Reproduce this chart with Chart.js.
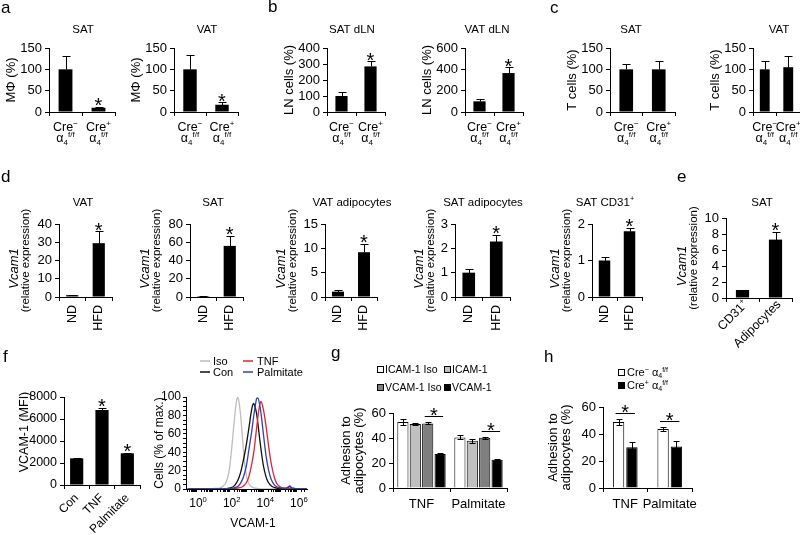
<!DOCTYPE html>
<html><head><meta charset="utf-8">
<script src="https://cdn.jsdelivr.net/npm/chart.js@4.4.0/dist/chart.umd.min.js"></script>
<style>
html,body{margin:0;padding:0;background:#fff;}
#wrap{position:relative;width:800px;height:535px;overflow:hidden;background:#fff;}
#wrap canvas{position:absolute;left:0;top:0;}
</style></head><body><div id="wrap"></div>
<script>
// ================= DATA =================
// Row 1 (panels a-c): Cre- vs Cre+ alpha4 f/f
const creGroups = ['Cre^{−}|α_{4}^{f/f}', 'Cre^{+}|α_{4}^{f/f}'];
const aSAT_values = [100, 10];   const aSAT_errors = [31, 2];
const aVAT_values = [100, 17];   const aVAT_errors = [34, 6];
const bSAT_values = [100, 285];  const bSAT_errors = [25, 33];
const bVAT_values = [100, 365];  const bVAT_errors = [18, 55];
const cSAT_values = [100, 100];  const cSAT_errors = [13, 19];
const cVAT_values = [100, 105];  const cVAT_errors = [20, 26];

// Row 2 (panels d-e): Vcam1 relative expression
const dietGroups = ['ND', 'HFD'];
const dVAT_values = [1, 29.5];     const dVAT_errors = [0.2, 6.5];
const dSAT_values = [1, 56];       const dSAT_errors = [0.3, 11];
const dVATad_values = [1.1, 9.2];  const dVATad_errors = [0.4, 1.7];
const dSATad_values = [1.0, 2.28]; const dSATad_errors = [0.17, 0.28];
const dCD31_values = [1.0, 1.8];   const dCD31_errors = [0.1, 0.1];
const eGroups = ['CD31^{+}', 'Adipocytes'];
const eSAT_values = [1.0, 7.3];    const eSAT_errors = [0.05, 0.95];

// Panel f: VCAM-1 MFI
const fGroups = ['Con', 'TNF', 'Palmitate'];
const fMFI_values = [2420, 6820, 2880];
const fMFI_errors = [30, 180, 40];

// Panel f histogram (x = log10 VCAM-1 intensity, y = % of max)
const histIso_logx = [-0.5, 0.5, 1.0, 1.4, 1.6, 1.8, 1.95, 2.05, 2.15, 2.25, 2.35, 2.42, 2.48, 2.55, 2.65, 2.75, 2.85, 2.95, 3.05, 3.2, 3.4, 3.7, 4.5, 5.5, 6.5];
const histIso_pct  = [0, 0, 0.5, 1, 3, 8, 18, 32, 50, 70, 88, 97, 100, 95, 80, 58, 36, 20, 10, 4, 1.5, 0.5, 0, 0, 0];
const histCon_logx = [-0.5, 1.0, 1.8, 2.1, 2.3, 2.5, 2.65, 2.8, 2.95, 3.05, 3.15, 3.25, 3.35, 3.42, 3.5, 3.6, 3.7, 3.8, 3.9, 4.0, 4.15, 4.3, 4.5, 4.8, 5.2, 5.45, 5.57, 5.7, 6.0, 6.6];
const histCon_pct  = [0, 0.3, 0.5, 1.5, 4, 10, 18, 30, 44, 55, 67, 80, 90, 93, 90, 82, 68, 52, 38, 26, 14, 7, 3, 1, 0.5, 1.5, 3, 1, 0.3, 0];
const histPalm_logx = [-0.5, 1.0, 2.0, 2.3, 2.5, 2.7, 2.85, 3.0, 3.12, 3.22, 3.32, 3.42, 3.52, 3.6, 3.68, 3.78, 3.88, 3.98, 4.08, 4.18, 4.32, 4.48, 4.68, 4.95, 5.3, 5.45, 5.57, 5.7, 6.0, 6.6];
const histPalm_pct  = [0, 0.3, 0.5, 1.5, 3, 8, 15, 26, 40, 52, 64, 78, 90, 98, 99, 92, 80, 64, 48, 34, 20, 10, 4, 1.5, 0.5, 1.5, 3, 1, 0.3, 0];
const histTNF_logx = [-0.5, 1.0, 2.2, 2.6, 2.8, 3.0, 3.15, 3.3, 3.45, 3.55, 3.65, 3.75, 3.82, 3.88, 3.95, 4.05, 4.15, 4.25, 4.35, 4.5, 4.65, 4.8, 5.0, 5.3, 5.6, 6.0, 6.6];
const histTNF_pct  = [0, 0.3, 0.5, 1.5, 3, 7, 14, 26, 42, 58, 74, 88, 94, 95, 91, 82, 70, 56, 42, 25, 13, 6, 2.5, 1, 0.5, 0.3, 0];
const histMajorTicks = [0, 2, 4, 6];
const histTickLabels = ['10^{0}', '10^{2}', '10^{4}', '10^{6}'];

// Panel g: adhesion to adipocytes
const gGroups = ['TNF', 'Palmitate'];
const gSeriesNames = ['ICAM-1 Iso', 'ICAM-1', 'VCAM-1 Iso', 'VCAM-1'];
const gICAMIso_values = [52.8, 40.5]; const gICAMIso_errors = [2.5, 1.6];
const gICAM_values    = [51.2, 37.8]; const gICAM_errors    = [1.0, 1.6];
const gVCAMIso_values = [51.7, 40.2]; const gVCAMIso_errors = [0.8, 1.0];
const gVCAM_values    = [27.2, 22.6]; const gVCAM_errors    = [0.5, 0.3];

// Panel h
const hGroups = ['TNF', 'Palmitate'];
const hSeriesNames = ['Cre^{−} α_{4}^{f/f}', 'Cre^{+} α_{4}^{f/f}'];
const hCreNeg_values = [48.9, 43.7]; const hCreNeg_errors = [2.5, 1.7];
const hCrePos_values = [30.2, 30.8]; const hCrePos_errors = [4.0, 3.8];

// ================= HELPERS =================
const FONT = "'Liberation Sans', Arial, Helvetica, sans-serif";
const W = 800, H = 535, YW = 40;
const BLUE = '#2f44a8', RED = '#e5232d', GRAY = '#bdbdbd';

function parse(s) {
  const parts = []; const re = /\^\{([^}]*)\}|_\{([^}]*)\}|~\{([^}]*)\}|([^^_~]+)/g; let m;
  while ((m = re.exec(s))) {
    if (m[1] !== undefined) parts.push([m[1], 1]);
    else if (m[2] !== undefined) parts.push([m[2], -1]);
    else if (m[3] !== undefined) parts.push([m[3], 0, true]);
    else parts.push([m[4], 0]);
  }
  return parts;
}
function pf(p, size) { const s = p[1] ? size * 0.64 : size; return (p[2] ? 'italic ' : '') + s + 'px ' + FONT; }
function drawRich(ctx, str, x, y, size, align) {
  const parts = parse(str);
  let w = 0;
  for (const p of parts) { ctx.font = pf(p, size); w += ctx.measureText(p[0]).width; }
  let cx = align === 'center' ? x - w / 2 : align === 'right' ? x - w : x;
  ctx.textAlign = 'left'; ctx.textBaseline = 'alphabetic';
  for (const p of parts) {
    ctx.font = pf(p, size);
    const dy = p[1] === 1 ? -size * 0.4 : p[1] === -1 ? size * 0.22 : 0;
    ctx.fillText(p[0], cx, y + dy);
    cx += ctx.measureText(p[0]).width;
  }
}
function val(v, c) { return typeof v === 'function' ? v(c) : v; }
function mkCanvas() {
  const c = document.createElement('canvas'); c.width = W; c.height = H;
  c.style.width = W + 'px'; c.style.height = H + 'px';
  document.getElementById('wrap').appendChild(c); return c;
}
function makeDeco(items) {
  return { id: 'deco', afterDraw(chart) {
    const ctx = chart.ctx;
    for (const it of items) {
      ctx.save();
      const x = val(it.x, chart), y = val(it.y, chart);
      if (it.type === 'box') {
        ctx.fillStyle = it.fill; ctx.fillRect(x, y, it.w, it.h);
        ctx.strokeStyle = '#000'; ctx.lineWidth = 1; ctx.strokeRect(x + 0.5, y + 0.5, it.w - 1, it.h - 1);
      } else if (it.type === 'hline') {
        ctx.strokeStyle = it.color; ctx.lineWidth = it.lw || 1.5;
        ctx.beginPath(); ctx.moveTo(x, y); ctx.lineTo(x + it.w, y); ctx.stroke();
      } else {
        ctx.fillStyle = it.color || '#000';
        ctx.translate(x, y);
        if (it.rot) ctx.rotate(it.rot * Math.PI / 180);
        drawRich(ctx, it.t, 0, it.mid ? it.size * 0.36 : 0, it.size, it.align || 'center');
      }
      ctx.restore();
    }
  }};
}
function makeErr(upOnly, cap) {
  return { id: 'errbars', afterDatasetsDraw(chart) {
    const ctx = chart.ctx, ys = chart.scales.y;
    ctx.save(); ctx.strokeStyle = '#000'; ctx.lineWidth = 1;
    chart.data.datasets.forEach((ds, di) => {
      if (!ds.errors) return;
      chart.getDatasetMeta(di).data.forEach((el, i) => {
        const v = ds.data[i], e = ds.errors[i];
        const x = Math.round(el.x) + 0.5;
        const yt = Math.round(ys.getPixelForValue(v + e)) + 0.5;
        const yb = Math.round(ys.getPixelForValue(upOnly ? v : v - e)) + 0.5;
        ctx.beginPath(); ctx.moveTo(x, yt); ctx.lineTo(x, yb);
        ctx.moveTo(x - cap, yt); ctx.lineTo(x + cap, yt);
        if (!upOnly) { ctx.moveTo(x - cap, yb); ctx.lineTo(x + cap, yb); }
        ctx.stroke();
      });
    });
    ctx.restore();
  }};
}
function makeStars(marks, brackets, size) {
  return { id: 'stars', afterDatasetsDraw(chart) {
    const ctx = chart.ctx, ys = chart.scales.y;
    const topOf = (di, i) => { const ds = chart.data.datasets[di]; return ys.getPixelForValue(ds.data[i] + (ds.errors ? ds.errors[i] : 0)); };
    const xOf = (di, i) => chart.getDatasetMeta(di).data[i].x;
    ctx.save(); ctx.fillStyle = '#000'; ctx.strokeStyle = '#000'; ctx.lineWidth = 1;
    ctx.font = size + 'px ' + FONT; ctx.textAlign = 'center'; ctx.textBaseline = 'alphabetic';
    for (const [di, i] of marks) {
      ctx.fillText('*', xOf(di, i), topOf(di, i) - 3 + 0.42 * size);
    }
    for (const [d1, i1, d2, i2] of brackets) {
      const yl = Math.round(Math.min(topOf(d1, i1), topOf(d2, i2)) - 6) + 0.5;
      const xa = xOf(d1, i1), xb = xOf(d2, i2);
      ctx.beginPath(); ctx.moveTo(xa - 3, yl); ctx.lineTo(xb + 3, yl); ctx.stroke();
      ctx.fillText('*', (xa + xb) / 2, yl - 3 + 0.42 * size);
    }
    ctx.restore();
  }};
}
function makeXLab(o) {
  return { id: 'xlab', afterDraw(chart) {
    if (!o) return;
    const xs = chart.scales.x, ctx = chart.ctx;
    chart.data.labels.forEach((lab, i) => {
      const x = xs.getPixelForValue(i) + (o.dx || 0);
      lab.split('|').forEach((line, k) => {
        ctx.save(); ctx.fillStyle = '#000';
        ctx.translate(x, o.y[k]); if (o.rot) ctx.rotate(o.rot * Math.PI / 180);
        drawRich(ctx, line, 0, 0, o.size, o.align || 'center');
        ctx.restore();
      });
    });
  }};
}
const L = c => c.chartArea.left;
const MIDY = c => (c.chartArea.top + c.chartArea.bottom) / 2;

function barPanel(c) {
  const canvas = mkCanvas();
  const XH = c.xh || 24;
  const datasets = c.series.map(s => ({
    data: s.values, errors: s.errors, backgroundColor: s.color || '#000',
    borderColor: '#000', borderWidth: s.border || 0,
    barPercentage: c.barPct, categoryPercentage: c.catPct
  }));
  let xTicks = { display: false };
  if (c.xRot !== undefined) xTicks = { display: true, autoSkip: false, minRotation: c.xRot, maxRotation: c.xRot, font: { family: FONT, size: c.xSize || 12 }, color: '#000', padding: c.xPad ?? 3 };
  else if (c.xPlain) xTicks = { display: true, autoSkip: false, maxRotation: 0, font: { family: FONT, size: c.xSize || 12 }, color: '#000', padding: c.xPad ?? 4 };
  return new Chart(canvas, {
    type: 'bar',
    data: { labels: c.labels, datasets },
    options: {
      responsive: false, animation: false, events: [], devicePixelRatio: 1,
      layout: { autoPadding: false, padding: { left: c.x0 - YW, right: W - c.x1, top: c.yTop, bottom: H - c.yBot - XH } },
      plugins: { legend: { display: false }, tooltip: { enabled: false }, title: { display: false } },
      scales: {
        x: { offset: true, grid: { offset: true, drawOnChartArea: false, color: '#000', tickColor: '#000', tickLength: 4, lineWidth: 1 },
             border: { display: true, color: '#000', width: 1 }, ticks: xTicks, afterFit: s => { s.height = XH; } },
        y: { min: 0, max: c.max, grid: { drawOnChartArea: false, color: '#000', tickColor: '#000', tickLength: 4 },
             border: { display: true, color: '#000', width: 1 },
             ticks: { stepSize: c.step, autoSkip: false, callback: v => String(v), font: { family: FONT, size: c.ySize || 12 }, color: '#000', padding: 3 },
             afterFit: s => { s.width = YW; } }
      }
    },
    plugins: [makeErr(c.errUp !== false, c.cap || 4), makeStars(c.stars || [], c.brackets || [], c.starSize || 20), makeXLab(c.xlab), makeDeco(c.deco || [])]
  });
}

// ================= ROW 1 =================
const row1 = { yTop: 48, yBot: 112, catPct: 1, barPct: 0.42, ySize: 13, cap: 4,
  xlab: { y: [131, 142], size: 12.5 } };
function r1(x0, x1, values, errors, max, step, extra) {
  return barPanel(Object.assign({}, row1, { labels: creGroups, x0, x1, max, step,
    series: [{ values, errors }] }, extra));
}
const T1 = 11.5;
r1(49, 115, aSAT_values, aSAT_errors, 150, 50, { stars: [[0, 1]], deco: [
  { t: 'a', x: 1, y: 13, size: 17, align: 'left' },
  { t: 'SAT', x: 83, y: 33, size: T1 },
  { t: 'MΦ (%)', x: c => L(c) - 39, y: MIDY, size: 13, rot: -90, mid: true } ] });
r1(174, 238, aVAT_values, aVAT_errors, 150, 50, { stars: [[0, 1]], deco: [
  { t: 'VAT', x: 207, y: 33, size: T1 },
  { t: 'MΦ (%)', x: c => L(c) - 39, y: MIDY, size: 13, rot: -90, mid: true } ] });
r1(327, 385, bSAT_values, bSAT_errors, 400, 100, { stars: [[0, 1]], deco: [
  { t: 'b', x: 268, y: 12, size: 17, align: 'left' },
  { t: 'SAT dLN', x: 352, y: 33, size: T1 },
  { t: 'LN cells (%)', x: c => L(c) - 39, y: MIDY, size: 13, rot: -90, mid: true } ] });
r1(465, 523, bVAT_values, bVAT_errors, 600, 200, { stars: [[0, 1]], deco: [
  { t: 'VAT dLN', x: 487, y: 33, size: T1 },
  { t: 'LN cells (%)', x: c => L(c) - 39, y: MIDY, size: 13, rot: -90, mid: true } ] });
r1(610, 675, cSAT_values, cSAT_errors, 150, 50, { deco: [
  { t: 'c', x: 550, y: 13, size: 17, align: 'left' },
  { t: 'SAT', x: 631, y: 33, size: T1 },
  { t: 'T cells (%)', x: c => L(c) - 39, y: MIDY, size: 13, rot: -90, mid: true } ] });
r1(753, 803, cVAT_values, cVAT_errors, 150, 50, { deco: [
  { t: 'VAT', x: 779, y: 33, size: T1 },
  { t: 'T cells (%)', x: c => L(c) - 39, y: MIDY, size: 13, rot: -90, mid: true } ] });

// ================= ROW 2 =================
const row2 = { yTop: 224, yBot: 297, xh: 45, catPct: 1, barPct: 0.46, ySize: 13, cap: 4, xRot: 90, xSize: 12.5, xPad: 4, labels: dietGroups };
function vcamTitle(d1, d2) {
  return [ { t: '~{Vcam1}', x: c => L(c) - d1, y: c => MIDY(c) + 8, size: 13, rot: -90, mid: true },
           { t: '(relative expression)', x: c => L(c) - d2, y: MIDY, size: 11.5, rot: -90, mid: true } ];
}
barPanel(Object.assign({}, row2, { x0: 59, x1: 112, max: 40, step: 10, series: [{ values: dVAT_values, errors: dVAT_errors }], stars: [[0, 1]],
  deco: [ { t: 'd', x: 1, y: 182, size: 17, align: 'left' }, { t: 'VAT', x: 83, y: 206, size: T1 } ].concat(vcamTitle(46, 34)) }));
barPanel(Object.assign({}, row2, { x0: 190, x1: 243, max: 80, step: 20, series: [{ values: dSAT_values, errors: dSAT_errors }], stars: [[0, 1]],
  deco: [ { t: 'SAT', x: 213, y: 206, size: T1 } ].concat(vcamTitle(46, 34)) }));
barPanel(Object.assign({}, row2, { x0: 325, x1: 377, max: 15, step: 5, series: [{ values: dVATad_values, errors: dVATad_errors }], stars: [[0, 1]],
  deco: [ { t: 'VAT adipocytes', x: 352, y: 206, size: T1 } ].concat(vcamTitle(45, 33)) }));
barPanel(Object.assign({}, row2, { x0: 455, x1: 510, max: 3, step: 1, series: [{ values: dSATad_values, errors: dSATad_errors }], stars: [[0, 1]],
  deco: [ { t: 'SAT adipocytes', x: 483, y: 206, size: T1 } ].concat(vcamTitle(37, 25)) }));
barPanel(Object.assign({}, row2, { x0: 592, x1: 642, max: 2, step: 1, series: [{ values: dCD31_values, errors: dCD31_errors }], stars: [[0, 1]],
  deco: [ { t: 'SAT CD31^{+}', x: 605, y: 206, size: T1 } ].concat(vcamTitle(38, 26)) }));
barPanel(Object.assign({}, row2, { x0: 726, x1: 792, yTop: 218, yBot: 298, max: 10, step: 2, labels: eGroups, xRot: undefined,
  series: [{ values: eSAT_values, errors: eSAT_errors }], stars: [[0, 1]], barPct: 0.4,
  xlab: { y: [305, 305], size: 12.5, rot: -45, align: 'right', dx: 6 },
  deco: [ { t: 'e', x: 677, y: 182, size: 17, align: 'left' }, { t: 'SAT', x: 762, y: 206, size: T1 } ].concat(vcamTitle(45, 33)) }));

// ================= ROW 3 =================
// f: bar chart
barPanel({ labels: fGroups, x0: 64, x1: 140, yTop: 397, yBot: 485, xh: 48, max: 8000, step: 2000, ySize: 12.5,
  catPct: 1, barPct: 0.52, xRot: 45, xSize: 12, xPad: 2, cap: 4,
  series: [{ values: fMFI_values, errors: fMFI_errors }], stars: [[0, 1], [0, 2]],
  deco: [ { t: 'f', x: 3, y: 362, size: 17, align: 'left' },
          { t: 'VCAM-1 (MFI)', x: 23, y: 432, size: 12.5, rot: -90, mid: true } ] });

// f: histogram
(function () {
  const canvas = mkCanvas();
  const XH = 24;
  const pts = (xs, ys) => xs.map((x, i) => ({ x, y: ys[i] }));
  const ds = (label, xs, ys, color) => ({ label, data: pts(xs, ys), borderColor: color, borderWidth: 1.3,
    showLine: true, pointRadius: 0, cubicInterpolationMode: 'monotone', fill: false });
  const minor = [];
  for (let n = -1; n <= 6; n++) for (let k = 1; k <= 9; k++) { const v = n + Math.log10(k); if (v >= -0.6 && v <= 6.6) minor.push(v); }
  const x0 = 186, x1 = 307, yTop = 397, yBot = 489;
  new Chart(canvas, {
    type: 'scatter',
    data: { datasets: [ ds('Palmitate', histPalm_logx, histPalm_pct, BLUE), ds('TNF', histTNF_logx, histTNF_pct, RED),
                        ds('Con', histCon_logx, histCon_pct, '#111'), ds('Iso', histIso_logx, histIso_pct, GRAY) ] },
    options: {
      responsive: false, animation: false, events: [], devicePixelRatio: 1,
      layout: { autoPadding: false, padding: { left: x0 - YW, right: W - x1, top: yTop, bottom: H - yBot - XH } },
      plugins: { legend: { display: false }, tooltip: { enabled: false } },
      scales: {
        x: { type: 'linear', min: -0.6, max: 6.6,
             afterBuildTicks: a => { a.ticks = minor.map(v => ({ value: v })); },
             ticks: { callback: () => '', autoSkip: false },
             grid: { drawOnChartArea: false, color: '#000', tickColor: '#000', tickLength: 3 },
             border: { display: true, color: '#000', width: 1 }, afterFit: s => { s.height = XH; } },
        y: { min: 0, max: 100,
             ticks: { stepSize: 5, autoSkip: false, callback: v => (v % 20 === 0 ? String(v) : ''), font: { family: FONT, size: 12 }, color: '#000', padding: 2 },
             grid: { drawOnChartArea: false, color: '#000', tickColor: '#000', tickLength: 3 },
             border: { display: true, color: '#000', width: 1 }, afterFit: s => { s.width = YW; } }
      }
    },
    plugins: [makeDeco([
      { t: 'Cells (% of max.)', x: 159, y: 443, size: 12, rot: -90, mid: true },
      { t: 'VCAM-1', x: 253, y: 527, size: 12 },
      { type: 'hline', x: 200, y: 361, w: 10, color: GRAY },
      { t: 'Iso', x: 213, y: 365, size: 11, align: 'left' },
      { type: 'hline', x: 200, y: 372, w: 10, color: '#111' },
      { t: 'Con', x: 213, y: 376, size: 11, align: 'left' },
      { type: 'hline', x: 243, y: 361, w: 10, color: RED },
      { t: 'TNF', x: 257, y: 365, size: 11, align: 'left' },
      { type: 'hline', x: 243, y: 372, w: 10, color: BLUE },
      { t: 'Palmitate', x: 257, y: 376, size: 11, align: 'left' }
    ].concat(histMajorTicks.map((v, i) => ({ t: histTickLabels[i], x: c => c.scales.x.getPixelForValue(v) + 2, y: 507, size: 12 }))))]
  });
})();

// g
barPanel({ labels: gGroups, x0: 393, x1: 507, yTop: 413, yBot: 488, max: 60, step: 20, ySize: 13,
  catPct: 0.87, barPct: 0.9, xPlain: true, xSize: 13, xPad: 5, errUp: false, cap: 3,
  series: [ { values: gICAMIso_values, errors: gICAMIso_errors, color: '#ffffff', border: 1 },
            { values: gICAM_values, errors: gICAM_errors, color: '#c0c0c0', border: 1 },
            { values: gVCAMIso_values, errors: gVCAMIso_errors, color: '#7f7f7f', border: 1 },
            { values: gVCAM_values, errors: gVCAM_errors, color: '#000000', border: 1 } ],
  brackets: [[2, 0, 3, 0], [2, 1, 3, 1]],
  deco: [ { t: 'g', x: 331, y: 358, size: 17, align: 'left' },
          { t: 'Adhesion to', x: c => L(c) - 48, y: MIDY, size: 13, rot: -90, mid: true },
          { t: 'adipocytes (%)', x: c => L(c) - 35, y: MIDY, size: 13, rot: -90, mid: true },
          { type: 'box', x: 377, y: 366, w: 7, h: 7, fill: '#ffffff' },
          { t: gSeriesNames[0], x: 385, y: 373, size: 10.5, align: 'left' },
          { type: 'box', x: 444, y: 366, w: 7, h: 7, fill: '#c0c0c0' },
          { t: gSeriesNames[1], x: 452, y: 373, size: 10.5, align: 'left' },
          { type: 'box', x: 377, y: 384, w: 7, h: 7, fill: '#7f7f7f' },
          { t: gSeriesNames[2], x: 385, y: 391, size: 10.5, align: 'left' },
          { type: 'box', x: 444, y: 384, w: 7, h: 7, fill: '#000000' },
          { t: gSeriesNames[3], x: 452, y: 391, size: 10.5, align: 'left' } ] });

// h
barPanel({ labels: hGroups, x0: 603, x1: 692, yTop: 407, yBot: 488, max: 60, step: 20, ySize: 13,
  catPct: 0.6, barPct: 0.85, xPlain: true, xSize: 13, xPad: 5, errUp: false, cap: 3,
  series: [ { values: hCreNeg_values, errors: hCreNeg_errors, color: '#ffffff', border: 1 },
            { values: hCrePos_values, errors: hCrePos_errors, color: '#000000', border: 1 } ],
  brackets: [[0, 0, 1, 0], [0, 1, 1, 1]],
  deco: [ { t: 'h', x: 544, y: 362, size: 17, align: 'left' },
          { t: 'Adhesion to', x: c => L(c) - 51, y: MIDY, size: 13, rot: -90, mid: true },
          { t: 'adipocytes (%)', x: c => L(c) - 38, y: MIDY, size: 13, rot: -90, mid: true },
          { type: 'box', x: 618, y: 369, w: 7, h: 7, fill: '#ffffff' },
          { t: hSeriesNames[0], x: 627, y: 376, size: 11, align: 'left' },
          { type: 'box', x: 618, y: 382, w: 7, h: 7, fill: '#000000' },
          { t: hSeriesNames[1], x: 627, y: 389, size: 11, align: 'left' } ] });
</script>
</body></html>
